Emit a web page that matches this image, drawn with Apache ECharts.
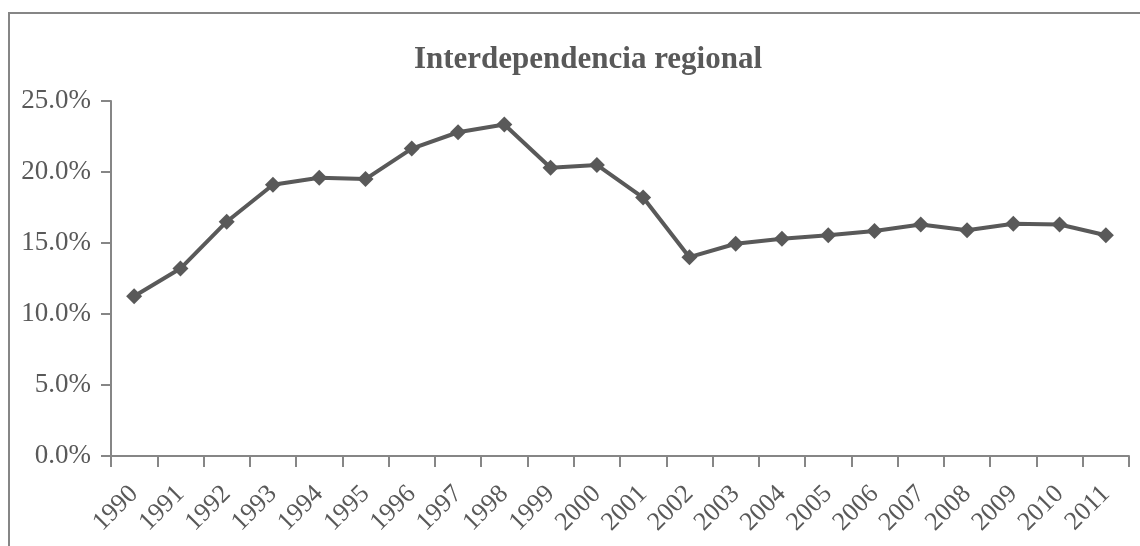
<!DOCTYPE html>
<html>
<head>
<meta charset="utf-8">
<script src="https://cdn.jsdelivr.net/npm/echarts@6/dist/echarts.min.js"></script>
<style>
  html, body { margin: 0; padding: 0; background: #fff; }
  #chart { width: 1140px; height: 546px; }
</style>
</head>
<body>
<div id="chart"></div>
<script>
// datos
var years = ['1990', '1991', '1992', '1993', '1994', '1995', '1996', '1997', '1998', '1999', '2000',
  '2001', '2002', '2003', '2004', '2005', '2006', '2007', '2008', '2009', '2010', '2011'];
var interdep = [11.25, 13.2, 16.5, 19.1, 19.6, 19.5, 21.65, 22.8, 23.35, 20.3, 20.5,
  18.2, 14.0, 14.95, 15.3, 15.55, 15.85, 16.3, 15.9, 16.35, 16.3, 15.55];
var yTicks = [0, 5, 10, 15, 20, 25];

var grey = '#595959';
var axisGrey = '#868686';
var serif = '"Liberation Serif", "DejaVu Serif", serif';

var chart = echarts.init(document.getElementById('chart'), null, { renderer: 'canvas' });

var option = {
  animation: false,
  backgroundColor: '#fff',
  title: {
    text: 'Interdependencia regional',
    left: 583,
    top: 39,
    textAlign: 'center',
    textStyle: {
      fontFamily: serif,
      fontSize: 31,
      fontWeight: 'bold',
      color: grey
    }
  },
  graphic: [{
    type: 'rect',
    shape: { x: 9, y: 13, width: 1200, height: 600 },
    style: { fill: 'none', stroke: axisGrey, lineWidth: 2 },
    silent: true
  }],
  grid: {
    left: 111,
    right: 11,
    top: 101,
    bottom: 90,
    containLabel: false
  },
  xAxis: {
    type: 'category',
    data: years,
    boundaryGap: true,
    axisLine: { lineStyle: { color: axisGrey, width: 2 } },
    axisTick: { show: true, length: 11, alignWithLabel: false, lineStyle: { color: axisGrey, width: 2 } },
    axisLabel: {
      rotate: 45,
      interval: 0,
      margin: 34,
      fontFamily: serif,
      fontSize: 26,
      color: grey
    },
    splitLine: { show: false }
  },
  yAxis: {
    type: 'value',
    min: yTicks[0],
    max: yTicks[yTicks.length - 1],
    interval: 5,
    axisLine: { show: true, lineStyle: { color: axisGrey, width: 2 } },
    axisTick: { show: true, inside: false, length: 10, lineStyle: { color: axisGrey, width: 2 } },
    axisLabel: {
      margin: 20,
      fontFamily: serif,
      fontSize: 27,
      color: grey,
      formatter: function (v) { return v.toFixed(1) + '%'; }
    },
    splitLine: { show: false }
  },
  series: [{
    name: 'Interdependencia regional',
    type: 'line',
    data: interdep,
    symbol: 'diamond',
    symbolSize: 16,
    lineStyle: { color: grey, width: 4 },
    itemStyle: { color: grey },
    emphasis: { disabled: true }
  }]
};

chart.setOption(option);
</script>
</body>
</html>
